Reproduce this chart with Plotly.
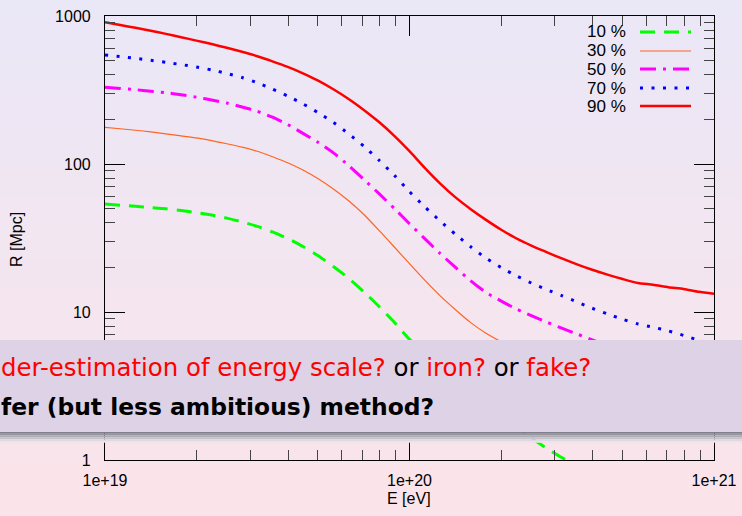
import plotly.graph_objects as go

# ---------------- data ----------------
energy_ev = [1.000e19, 1.122e19, 1.259e19, 1.413e19, 1.585e19, 1.778e19, 1.995e19, 2.239e19, 2.512e19, 2.818e19,
             3.162e19, 3.548e19, 3.981e19, 4.467e19, 5.012e19, 5.623e19, 6.310e19, 7.079e19, 7.943e19, 8.913e19,
             1.000e20, 1.122e20, 1.259e20, 1.413e20, 1.585e20, 1.778e20, 1.995e20, 2.239e20, 2.512e20, 2.818e20,
             3.162e20, 3.548e20, 3.981e20, 4.467e20, 5.012e20, 5.623e20, 6.310e20, 7.079e20, 7.943e20, 8.913e20,
             1.000e21]

r_10 = [53.7, 52.7, 51.8, 50.8, 49.8, 48.5, 47.0, 45.2, 43.1, 40.6, 37.9, 34.8, 31.4, 27.7, 24.0, 20.3, 16.9, 13.7,
        10.9, 8.53, 6.53, 5.31, 4.35, 3.57, 2.94, 2.43, 2.02, 1.68, 1.41, 1.20, 1.04, 0.912, 0.807, 0.723, 0.653,
        0.594, 0.545, 0.501, 0.463, 0.430, 0.400]
r_30 = [177, 173, 169, 165, 160, 155, 150, 144, 137, 130, 122, 112, 102, 91.0, 79.4, 67.8, 56.4, 45.6, 35.6, 27.5,
        21.2, 16.4, 12.9, 10.4, 8.51, 7.21, 6.31, 5.62, 5.05, 4.54, 4.09, 3.70, 3.35, 3.04, 2.77, 2.54, 2.32, 2.14,
        1.97, 1.82, 1.69]
r_50 = [330, 324, 318, 310, 303, 294, 283, 271, 258, 243, 227, 207, 185, 161, 140, 119, 97.7, 78.7, 63.1, 50.1,
        39.5, 31.3, 24.9, 20.1, 16.3, 13.6, 11.9, 10.5, 9.44, 8.55, 7.78, 7.10, 6.49, 5.93, 5.43, 4.98, 4.57, 4.20,
        3.86, 3.56, 3.28]
r_70 = [545, 532, 518, 502, 486, 470, 452, 432, 409, 384, 354, 321, 288, 255, 222, 191, 160, 132, 106, 83.8, 65.0,
        51.4, 41.3, 33.6, 27.7, 23.2, 20.0, 17.6, 15.7, 14.2, 12.9, 11.7, 10.6, 9.70, 8.93, 8.30, 7.89, 7.45, 6.95,
        6.44, 6.01]
r_90 = [906, 869, 832, 794, 757, 719, 682, 646, 610, 573, 535, 494, 453, 410, 366, 320, 275, 232, 192, 155, 122,
        94.2, 74.0, 59.7, 49.7, 42.1, 36.1, 31.5, 28.1, 25.4, 23.0, 21.0, 19.3, 17.9, 16.7, 15.7, 15.3, 14.7, 14.3,
        13.7, 13.3]

series_names = ["10 %", "30 %", "50 %", "70 %", "90 %"]
series_values = [r_10, r_30, r_50, r_70, r_90]

x_tick_vals = [1e19, 1e20, 1e21]
x_tick_text = ["1e+19", "1e+20", "1e+21"]
x_minor_vals = [m * 1e19 for m in range(2, 10)] + [m * 1e20 for m in range(2, 10)]
y_tick_vals = [1, 10, 100, 1000]
y_tick_text = ["1", "10", "100", "1000"]
y_minor_vals = [m * d for d in (1, 10, 100) for m in range(2, 10)]

# ---------------- styles ----------------
W, H = 742, 516
L, R, T, B = 105, 28, 16, 56
PW, PH = W - L - R, H - T - B

styles = [
    dict(color="#00ff00", width=3, dash="15px,9px"),
    dict(color="#ff6420", width=1.2, dash="solid"),
    dict(color="#ff00ff", width=3, dash="16px,7px,3px,7px"),
    dict(color="#0000ff", width=3, dash="3px,8.5px"),
    dict(color="#ff0000", width=2.5, dash="solid"),
]

def px_x(x):
    return (x - L) / PW

def px_y(y):
    return (H - B - y) / PH

fig = go.Figure()
for name, vals, st in zip(series_names, series_values, styles):
    fig.add_trace(go.Scatter(x=energy_ev, y=vals, mode="lines", name=name,
                             line=dict(color=st["color"], width=st["width"], dash=st["dash"], shape="spline",
                                       smoothing=0.6),
                             showlegend=False))

shapes = []
# background gradient
top_c = (234, 231, 247)
bot_c = (251, 228, 233)
step = 6
for y0 in range(0, H, step):
    t = (y0 + step / 2) / H
    c = tuple(round(a + (b - a) * t) for a, b in zip(top_c, bot_c))
    shapes.append(dict(type="rect", xref="paper", yref="paper", layer="below",
                       x0=px_x(0), x1=px_x(W), y0=px_y(y0), y1=px_y(min(y0 + step + 1, H)),
                       line=dict(width=0), fillcolor="rgb(%d,%d,%d)" % c))

# legend samples
leg_rows = [32, 51, 69, 88, 106]
for st, yy in zip(styles, leg_rows):
    shapes.append(dict(type="line", xref="paper", yref="paper", layer="above",
                       x0=px_x(640), x1=px_x(691), y0=px_y(yy), y1=px_y(yy),
                       line=dict(color=st["color"], width=st["width"], dash=st["dash"])))

# overlay box + shadow
shadow_cols = [(128, 128, 138), (150, 148, 158), (175, 172, 182), (200, 196, 205), (222, 216, 225), (240, 226, 233)]
for i, c in enumerate(shadow_cols):
    shapes.append(dict(type="rect", xref="paper", yref="paper", layer="above",
                       x0=px_x(0), x1=px_x(W), y0=px_y(432 + i * 1.8), y1=px_y(432 + (i + 1) * 1.8),
                       line=dict(width=0), fillcolor="rgb(%d,%d,%d)" % c))
shapes.append(dict(type="rect", xref="paper", yref="paper", layer="above",
                   x0=px_x(0), x1=px_x(W), y0=px_y(432), y1=px_y(340),
                   line=dict(width=0), fillcolor="#ddd2e6"))

annotations = []
for name, yy in zip(series_names, leg_rows):
    annotations.append(dict(text=name, xref="paper", yref="paper", x=px_x(628), y=px_y(yy),
                            xanchor="right", yanchor="middle", showarrow=False,
                            font=dict(family="Liberation Sans, Arial", size=17, color="#000")))

annotations.append(dict(text="R [Mpc]", xref="paper", yref="paper", x=px_x(17), y=px_y(240),
                        textangle=-90, xanchor="center", yanchor="middle", showarrow=False,
                        font=dict(family="Liberation Sans, Arial", size=16, color="#000")))
annotations.append(dict(text="E [eV]", xref="paper", yref="paper", x=px_x(409), y=px_y(498),
                        xanchor="center", yanchor="middle", showarrow=False,
                        font=dict(family="Liberation Sans, Arial", size=16, color="#000")))

red = "#ff0000"
line1 = ('<span style="color:%s">der-estimation of energy scale?</span> or '
         '<span style="color:%s">iron?</span> or <span style="color:%s">fake?</span>') % (red, red, red)
annotations.append(dict(text=line1, xref="paper", yref="paper", x=px_x(-1), y=px_y(367),
                        xanchor="left", yanchor="middle", showarrow=False,
                        font=dict(family="DejaVu Sans", size=24.4, color="#000")))
annotations.append(dict(text="<b>fer (but less ambitious) method?</b>", xref="paper", yref="paper",
                        x=px_x(-1), y=px_y(407), xanchor="left", yanchor="middle", showarrow=False,
                        font=dict(family="DejaVu Sans", size=23.4, color="#000")))

axis_common = dict(showline=True, linecolor="#000", linewidth=1.2, mirror="ticks", ticks="inside",
                   ticklen=20, tickcolor="#000", tickwidth=1.2, showgrid=False, zeroline=False,
                   tickfont=dict(family="Liberation Sans, Arial", size=16, color="#000"))

fig.update_layout(
    width=W, height=H, margin=dict(l=L, r=R, t=T, b=B, autoexpand=False),
    paper_bgcolor="rgb(242,230,240)", plot_bgcolor="rgba(0,0,0,0)",
    xaxis=dict(type="log", range=[19, 21], tickmode="array", tickvals=x_tick_vals, ticktext=x_tick_text,
               minor=dict(tickvals=x_minor_vals, ticklen=10, ticks="inside", tickcolor="#444", tickwidth=1.2),
               ticklabelstandoff=6, **axis_common),
    yaxis=dict(type="log", range=[0, 3], tickmode="array", tickvals=y_tick_vals, ticktext=y_tick_text,
               minor=dict(tickvals=y_minor_vals, ticklen=10, ticks="inside", tickcolor="#444", tickwidth=1.2),
               ticklabelstandoff=10, **axis_common),
    shapes=shapes, annotations=annotations, showlegend=False,
)

fig.write_html("out.html")
